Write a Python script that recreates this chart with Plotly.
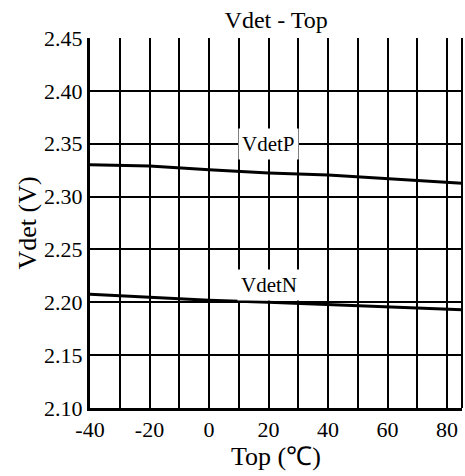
import plotly.graph_objects as go

temps = [-40, -20, 0, 20, 40, 60, 85]
vdetp = [2.330, 2.329, 2.3253, 2.3224, 2.3205, 2.3173, 2.3126]
vdetn = [2.2076, 2.2044, 2.2019, 2.2000, 2.1980, 2.1956, 2.1930]
label_names = ["VdetP", "VdetN"]
label_pos = [(20, 2.350), (20, 2.216)]
x_ticks = [-40, -20, 0, 20, 40, 60, 80]
x_ticktext = ["-40", "-20", "0", "20", "40", "60", "80"]
y_ticks = [2.10, 2.15, 2.20, 2.25, 2.30, 2.35, 2.40, 2.45]
y_ticktext = ["2.10", "2.15", "2.20", "2.25", "2.30", "2.35", "2.40", "2.45"]

FONT = "Liberation Serif"

fig = go.Figure()
fig.add_trace(go.Scatter(x=temps, y=vdetp, mode="lines", line=dict(color="black", width=3), showlegend=False))
fig.add_trace(go.Scatter(x=temps, y=vdetn, mode="lines", line=dict(color="black", width=3), showlegend=False))

for name, (lx, ly) in zip(label_names, label_pos):
    fig.add_annotation(x=lx, y=ly, text=name, showarrow=False, bgcolor="white",
                       font=dict(family=FONT, size=21, color="black"), borderpad=3)

fig.add_shape(type="line", xref="paper", yref="paper", x0=1, x1=1, y0=0, y1=1,
              line=dict(color="black", width=2))

fig.update_layout(
    width=465, height=476,
    margin=dict(l=90, r=3, t=38, b=68),
    paper_bgcolor="white", plot_bgcolor="white",
    font=dict(family=FONT, color="black", size=22),
    title=dict(text="Vdet - Top", x=0.594, xanchor="center", y=0.958, yanchor="middle",
               font=dict(family=FONT, size=24, color="black")),
    xaxis=dict(range=[-40, 85], tickmode="array", tickvals=x_ticks, ticktext=x_ticktext,
               showgrid=True, gridcolor="black", gridwidth=1.6,
               minor=dict(tickmode="linear", tick0=-40, dtick=10, showgrid=True, gridcolor="black", gridwidth=1.6),
               showline=True, linecolor="black", linewidth=3, ticks="",
               tickfont=dict(family=FONT, size=22, color="black"), zeroline=False,
               title=dict(text="Top (℃)", font=dict(family=FONT, size=26, color="black"), standoff=0)),
    yaxis=dict(range=[2.10, 2.45], tickmode="array", tickvals=y_ticks, ticktext=y_ticktext,
               showgrid=True, gridcolor="black", gridwidth=1.6,
               showline=True, linecolor="black", linewidth=3, ticks="",
               tickfont=dict(family=FONT, size=22, color="black"), zeroline=False,
               title=dict(text="Vdet (V)", font=dict(family=FONT, size=26, color="black"), standoff=0)),
)

fig.write_html("out.html")
